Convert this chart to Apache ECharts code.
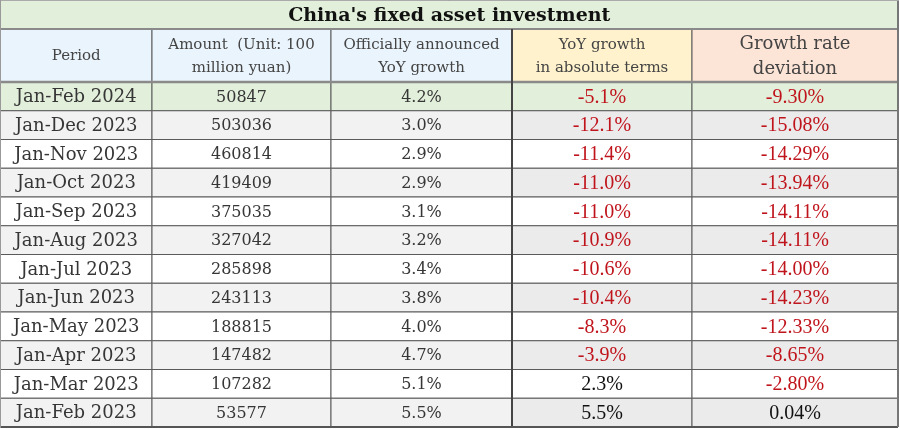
<!DOCTYPE html>
<html><head><meta charset="utf-8">
<script src="https://cdn.jsdelivr.net/npm/echarts@6/dist/echarts.min.js"></script>
<style>html,body{margin:0;padding:0;background:#fff}#c{width:900px;height:429px}</style>
</head><body><div id="c"></div>
<script>
// ---- data ----
const title = "China's fixed asset investment";
const headers = ['Period', 'Amount  (Unit: 100\nmillion yuan)', 'Officially announced\nYoY growth', 'YoY growth\nin absolute terms', 'Growth rate\ndeviation'];
const periods = ['Jan-Feb 2024','Jan-Dec 2023','Jan-Nov 2023','Jan-Oct 2023','Jan-Sep 2023','Jan-Aug 2023','Jan-Jul 2023','Jan-Jun 2023','Jan-May 2023','Jan-Apr 2023','Jan-Mar 2023','Jan-Feb 2023'];
const amounts = [50847,503036,460814,419409,375035,327042,285898,243113,188815,147482,107282,53577];
const official = [4.2,3.0,2.9,2.9,3.1,3.2,3.4,3.8,4.0,4.7,5.1,5.5];
const absolute = [-5.1,-12.1,-11.4,-11.0,-11.0,-10.9,-10.6,-10.4,-8.3,-3.9,2.3,5.5];
const deviation = [-9.30,-15.08,-14.29,-13.94,-14.11,-14.11,-14.00,-14.23,-12.33,-8.65,-2.80,0.04];

// ---- layout (axis units) ----
const colEdges = [0.5, 152, 331, 512, 692, 898];
const titleTop = 0.5, titleBottom = 29, headerBottom = 82, rowH = 28.75;
const headerBg = ['#eaf4fc','#eaf4fc','#eaf4fc','#fff2cc','#fce4d6'];
const serifA = 'DejaVu Serif', serifB = 'Liberation Serif';
const RED = '#c0141c';

const cells = [];
cells.push({c0:0,c1:5,y0:titleTop,y1:titleBottom,text:title,bg:'#e2efda',font:serifA,size:19,weight:'bold',color:'#111'});
headers.forEach((h,i)=>{
  cells.push({c0:i,c1:i+1,y0:titleBottom,y1:headerBottom,text:h,bg:headerBg[i],font:serifA,size:(i===4?18:15),weight:'normal',color:'#444',lh:(i===4?25:23)});
});
periods.forEach((p,r)=>{
  const y0 = headerBottom + r*rowH, y1 = y0 + rowH;
  const bgL = r===0 ? '#e2efda' : (r%2===1 ? '#f2f2f2' : '#ffffff');
  const bgR = r===0 ? '#e2efda' : (r%2===1 ? '#ebebeb' : '#ffffff');
  cells.push({c0:0,c1:1,y0,y1,text:p,bg:bgL,font:serifA,size:18,color:'#363636'});
  cells.push({c0:1,c1:2,y0,y1,text:String(amounts[r]),bg:bgL,font:serifA,size:16,color:'#363636'});
  cells.push({c0:2,c1:3,y0,y1,text:official[r].toFixed(1)+'%',bg:bgL,font:serifA,size:16,color:'#363636'});
  cells.push({c0:3,c1:4,y0,y1,text:absolute[r].toFixed(1)+'%',bg:bgR,font:serifB,size:20,color:absolute[r]<0?RED:'#111'});
  cells.push({c0:4,c1:5,y0,y1,text:deviation[r].toFixed(2)+'%',bg:bgR,font:serifB,size:20,color:deviation[r]<0?RED:'#111'});
});
const bottom = headerBottom + periods.length*rowH;

// emphasised rules
const rules = [
  {x0:0,x1:5,y0:titleBottom,y1:titleBottom,color:'#8a8a8a',w:2},
  {x0:0,x1:5,y0:headerBottom,y1:headerBottom,color:'#8a8a8a',w:2.5},
  {x0:3,x1:3,y0:titleBottom,y1:bottom,color:'#444',w:2},
  {x0:0,x1:5,y0:bottom,y1:bottom,color:'#555',w:2},
  {x0:5,x1:5,y0:titleTop,y1:bottom,color:'#777',w:2},
  {x0:0,x1:0,y0:titleTop,y1:bottom,color:'#999',w:1},
  {x0:0,x1:5,y0:titleTop,y1:titleTop,color:'#aaa',w:1}
];

const chart = echarts.init(document.getElementById('c'));
chart.setOption({
  animation:false,
  grid:{left:0,right:0,top:0,bottom:0},
  xAxis:{type:'value',min:0,max:900,show:false},
  yAxis:{type:'value',min:0,max:429,inverse:true,show:false},
  series:[
    {
      type:'custom',
      data:cells.map(c=>[colEdges[c.c0],c.y0]),
      renderItem:(params,api)=>{
        const c = cells[params.dataIndex];
        const p0 = api.coord([colEdges[c.c0], c.y0]);
        const p1 = api.coord([colEdges[c.c1], c.y1]);
        return {type:'group',children:[
          {type:'rect',shape:{x:p0[0],y:p0[1],width:p1[0]-p0[0],height:p1[1]-p0[1]},
           style:{fill:c.bg,stroke:'#5a5a5a',lineWidth:1}},
          {type:'text',style:{text:c.text,x:(p0[0]+p1[0])/2,y:(p0[1]+p1[1])/2+1,align:'center',verticalAlign:'middle',
            fontFamily:c.font,fontSize:c.size,fontWeight:c.weight||'normal',fill:c.color,lineHeight:c.lh||c.size*1.2}}
        ]};
      }
    },
    {
      type:'custom',
      data:rules.map(r=>[colEdges[r.x0],r.y0]),
      renderItem:(params,api)=>{
        const r = rules[params.dataIndex];
        const p0 = api.coord([colEdges[r.x0], r.y0]);
        const p1 = api.coord([colEdges[r.x1], r.y1]);
        return {type:'line',shape:{x1:p0[0],y1:p0[1],x2:p1[0],y2:p1[1]},style:{stroke:r.color,lineWidth:r.w}};
      }
    }
  ]
});
</script></body></html>
